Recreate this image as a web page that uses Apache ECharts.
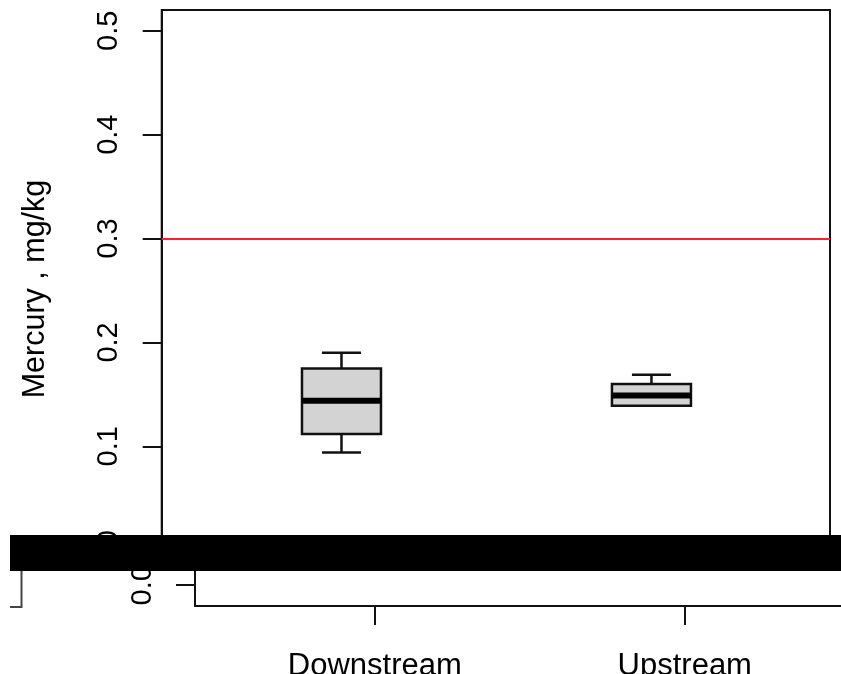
<!DOCTYPE html>
<html>
<head>
<meta charset="utf-8">
<script src="https://cdn.jsdelivr.net/npm/echarts@6/dist/echarts.min.js"></script>
<style>
html,body{margin:0;padding:0;background:#fff;}
#chart{width:841px;height:674px;}
</style>
</head>
<body>
<div id="chart"></div>
<script>
// ---- data ----
const categories = ['Downstream', 'Upstream'];
const lowWhisker = [0.094, 0.139];
const q1Values = [0.112, 0.139];
const medianValues = [0.144, 0.149];
const q3Values = [0.175, 0.160];
const highWhisker = [0.190, 0.169];
const yTicks = [0, 0.1, 0.2, 0.3, 0.4, 0.5];
const xTicks = [1, 2];
const referenceLevel = 0.3;
const yTitle = 'Mercury , mg/kg';

const boxData = categories.map((c, i) => [i + 1, lowWhisker[i], q1Values[i], medianValues[i], q3Values[i], highWhisker[i]]);

const FONT = "'Liberation Sans', Arial, Helvetica, sans-serif";
const INK = '#111';
const FS = 29;

const chart = echarts.init(document.getElementById('chart'), null, {renderer: 'canvas'});

function renderBox(params, api) {
  const x = api.value(0);
  const pLow = api.coord([x, api.value(1)]);
  const pQ1 = api.coord([x, api.value(2)]);
  const pMed = api.coord([x, api.value(3)]);
  const pQ3 = api.coord([x, api.value(4)]);
  const pHigh = api.coord([x, api.value(5)]);
  const cx = pMed[0];
  const bw = 79, cw = 39;
  const ls = {stroke: INK, lineWidth: 2.5};
  return {
    type: 'group',
    children: [
      {type: 'line', shape: {x1: cx, y1: pQ3[1], x2: cx, y2: pHigh[1]}, style: ls},
      {type: 'line', shape: {x1: cx, y1: pQ1[1], x2: cx, y2: pLow[1]}, style: ls},
      {type: 'line', shape: {x1: cx - cw / 2, y1: pHigh[1], x2: cx + cw / 2, y2: pHigh[1]}, style: ls},
      {type: 'line', shape: {x1: cx - cw / 2, y1: pLow[1], x2: cx + cw / 2, y2: pLow[1]}, style: ls},
      {type: 'rect', shape: {x: cx - bw / 2, y: pQ3[1], width: bw, height: pQ1[1] - pQ3[1]},
        style: {fill: '#d3d3d3', stroke: INK, lineWidth: 2.5}},
      {type: 'line', shape: {x1: cx - bw / 2, y1: pMed[1], x2: cx + bw / 2, y2: pMed[1]},
        style: {stroke: '#000', lineWidth: 6}}
    ]
  };
}

const option = {
  backgroundColor: '#fff',
  animation: false,
  textStyle: {fontFamily: FONT},
  grid: [
    {left: 161.7, top: 10, width: 668.3, height: 558, show: true, borderColor: INK, borderWidth: 2,
      backgroundColor: 'transparent', outerBoundsMode: 'none', containLabel: false},
    {left: 195, top: 571, width: 668.3, height: 35, show: false, outerBoundsMode: 'none', containLabel: false}
  ],
  xAxis: [
    {gridIndex: 0, type: 'value', min: 0.42, max: 2.576, show: false, splitLine: {show: false}},
    {gridIndex: 1, type: 'value', min: 0.42, max: 2.576, position: 'bottom',
      axisLine: {show: true, onZero: false, lineStyle: {color: INK, width: 2}},
      axisTick: {show: true, customValues: xTicks, length: 19, lineStyle: {color: INK, width: 2}},
      axisLabel: {show: true, customValues: xTicks, margin: 45, fontSize: 31, color: '#000', fontFamily: FONT,
        formatter: v => categories[Math.round(v) - 1] || ''},
      splitLine: {show: false}}
  ],
  yAxis: [
    {gridIndex: 0, type: 'value', min: -0.0171, max: 0.52,
      axisLine: {show: true, onZero: false, lineStyle: {color: INK, width: 2}},
      axisTick: {show: true, customValues: yTicks, length: 19, lineStyle: {color: INK, width: 2}},
      axisLabel: {show: true, customValues: yTicks, rotate: 90, margin: 38, fontSize: FS, color: '#000', fontFamily: FONT,
        formatter: v => v.toFixed(1)},
      splitLine: {show: false},
      name: yTitle, nameLocation: 'middle', nameGap: 111,
      nameTextStyle: {fontSize: 30.5, color: '#000', fontFamily: FONT}},
    {gridIndex: 1, type: 'value', min: -0.02, max: 0.0137, position: 'left',
      axisLine: {show: true, onZero: false, lineStyle: {color: INK, width: 2}},
      axisTick: {show: true, customValues: [yTicks[0]], length: 19, lineStyle: {color: INK, width: 2}},
      axisLabel: {show: true, customValues: [yTicks[0]], rotate: 90, margin: 38, fontSize: FS, color: '#000', fontFamily: FONT,
        formatter: v => v.toFixed(1)},
      splitLine: {show: false}}
  ],
  series: [
    {
      type: 'custom',
      xAxisIndex: 0, yAxisIndex: 0,
      renderItem: renderBox,
      encode: {x: 0, y: [1, 2, 3, 4, 5]},
      data: boxData,
      silent: true,
      markLine: {
        silent: true, symbol: 'none', label: {show: false},
        lineStyle: {color: '#ff2020', width: 2, type: 'solid'},
        data: [{yAxis: referenceLevel}]
      }
    }
  ],
  graphic: [
    {type: 'rect', z: 100, shape: {x: 10, y: 535, width: 831, height: 36}, style: {fill: '#000'}},
    {type: 'polyline', z: 100, shape: {points: [[10, 607], [21.5, 607], [21.5, 571]]},
      style: {stroke: '#444', lineWidth: 2, fill: null}}
  ]
};

chart.setOption(option);
</script>
</body>
</html>
